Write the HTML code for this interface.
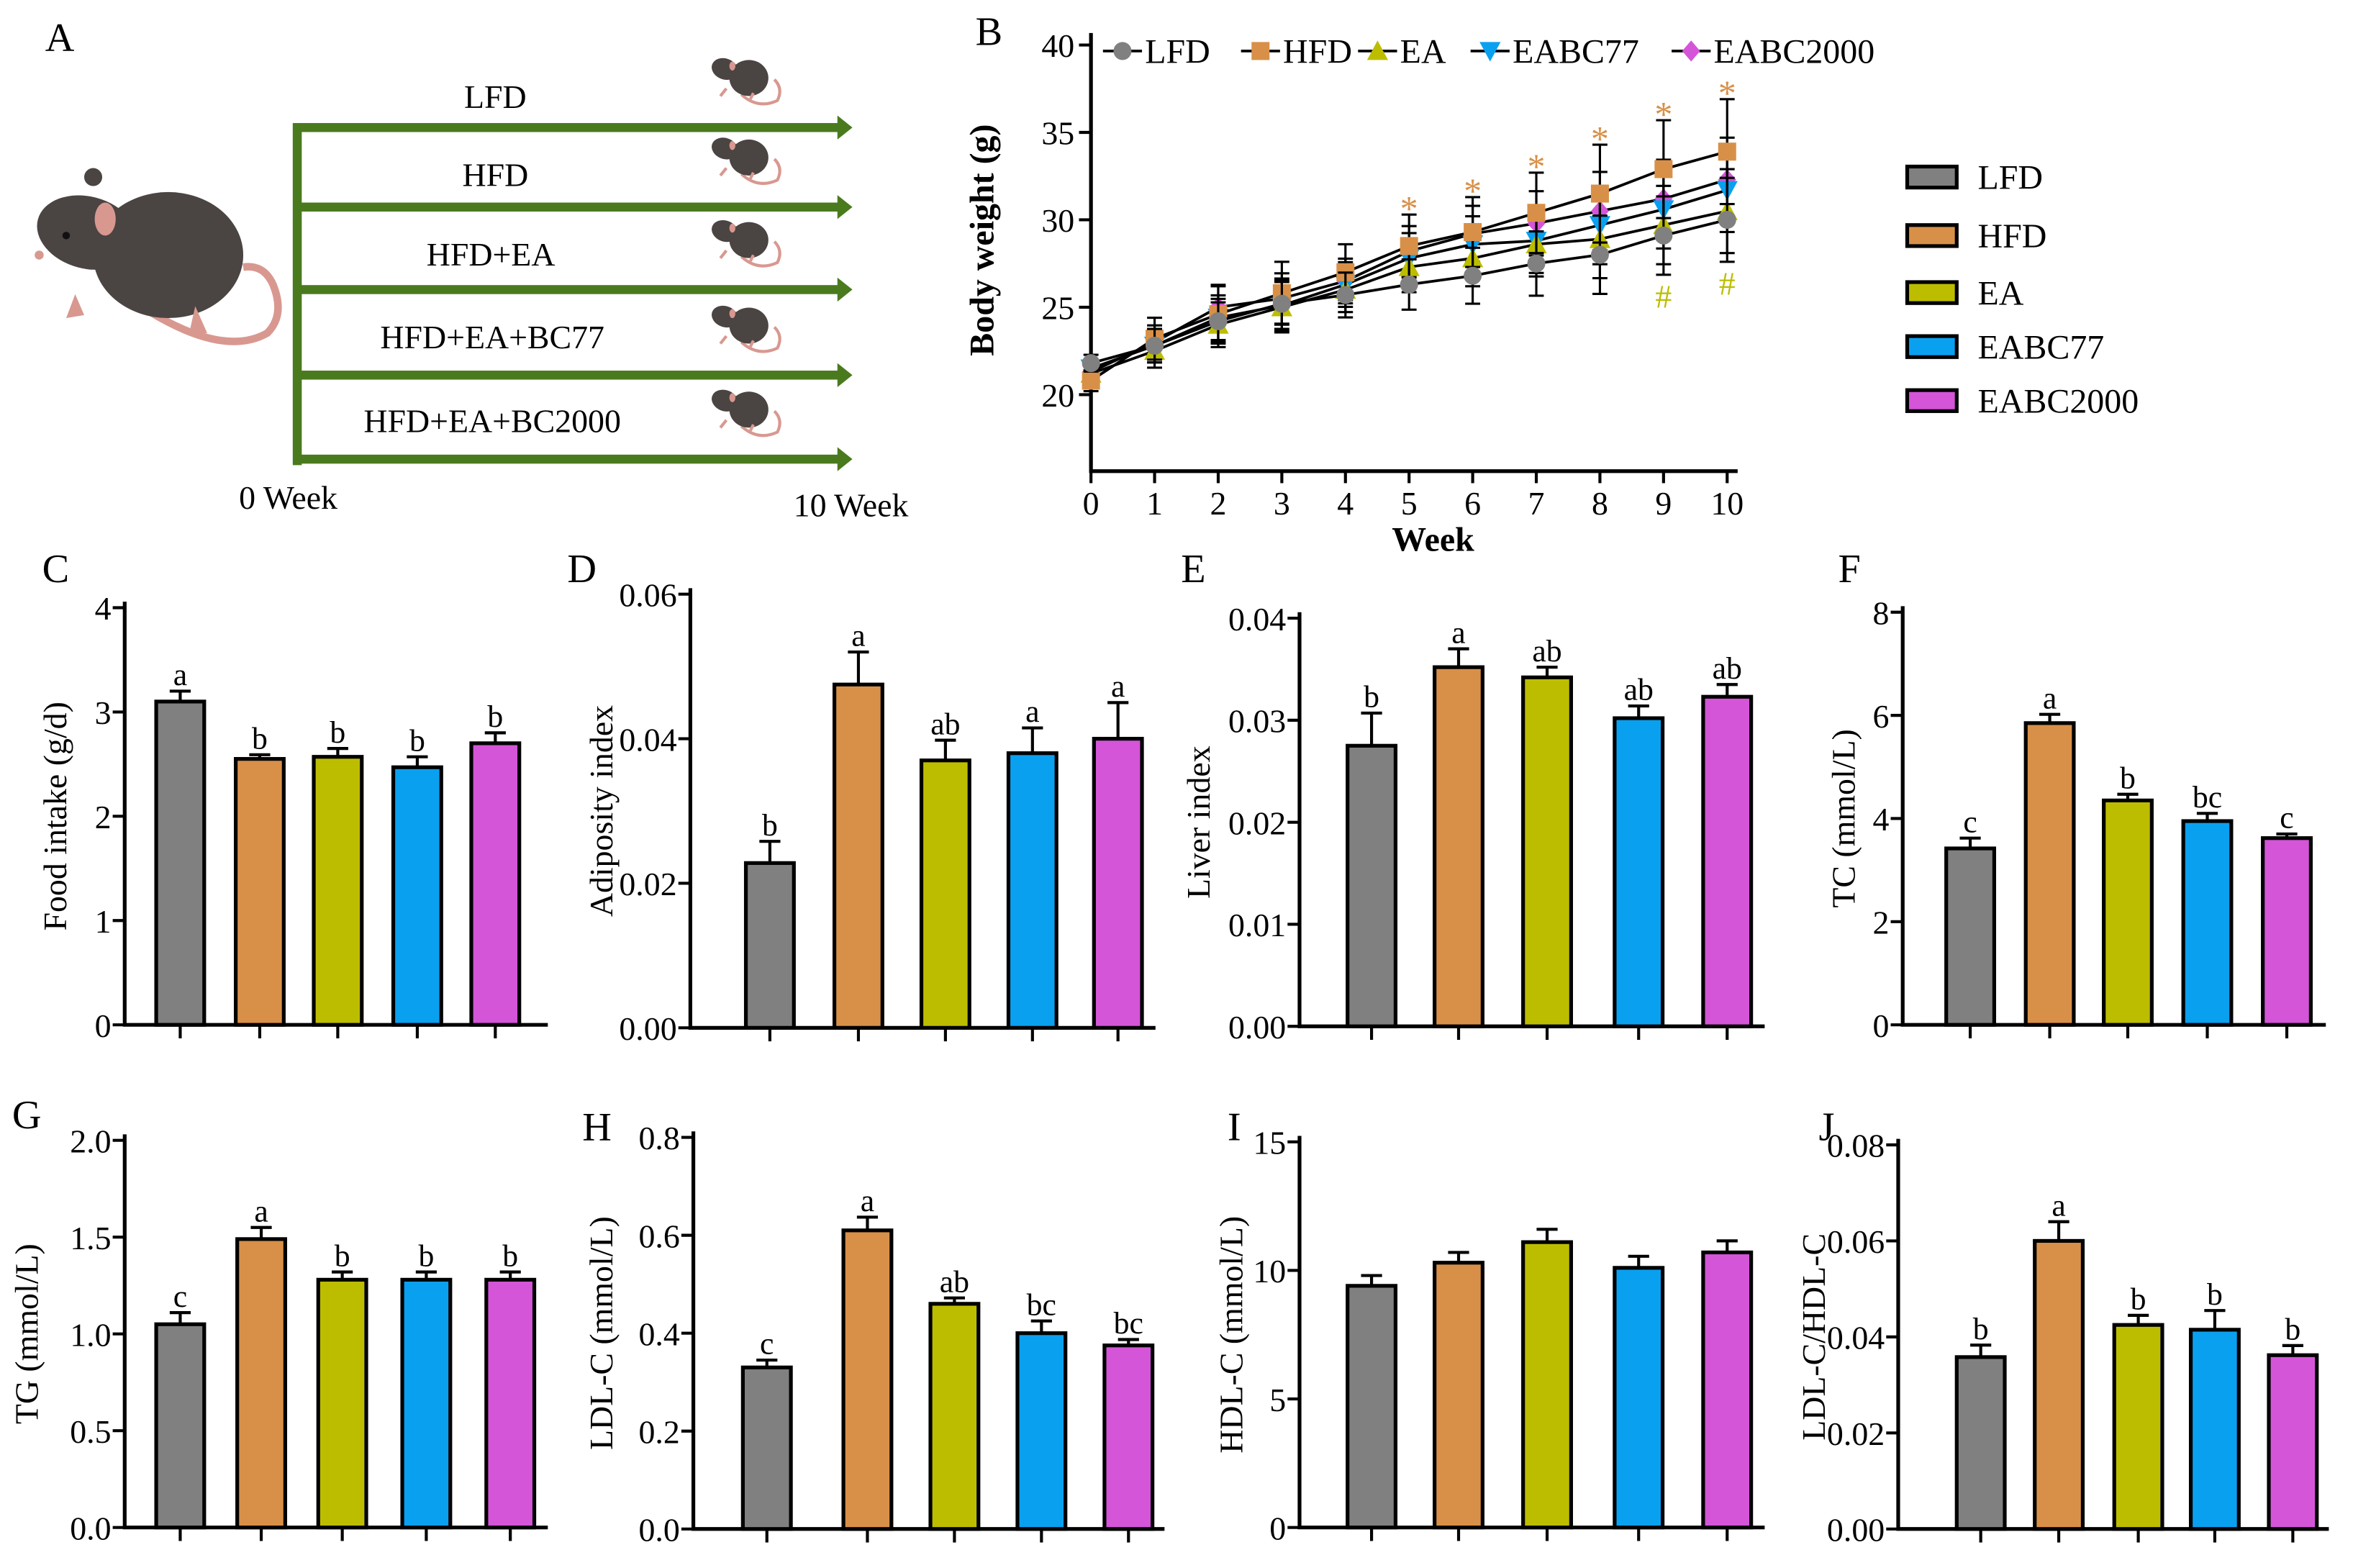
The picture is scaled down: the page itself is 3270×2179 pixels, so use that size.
<!DOCTYPE html>
<html><head><meta charset="utf-8">
<style>
html,body{margin:0;padding:0;background:#fff;}
svg{display:block;}
text{font-family:"Liberation Serif",serif;fill:#000;}
</style></head>
<body>
<svg id="fig" xmlns="http://www.w3.org/2000/svg" width="3270" height="2179" viewBox="0 0 1568 1045">
<g id="panelA">
  <text x="30" y="34" font-size="27">A</text>
  <g>
    <path d="M100 208 Q150 238 178 222 Q190 210 182 190 Q176 176 162 178" stroke="#d89890" stroke-width="5" fill="none"/>
    <ellipse cx="112" cy="170" rx="50" ry="42" fill="#4a4442"/>
    <ellipse cx="58" cy="155" rx="34" ry="24" fill="#4a4442" transform="rotate(15 58 155)"/>
    <ellipse cx="70" cy="146" rx="7" ry="11" fill="#d89890"/>
    <circle cx="62" cy="118" r="6" fill="#4a4442"/>
    <circle cx="44" cy="157" r="2.5" fill="#111"/>
    <circle cx="26" cy="170" r="3" fill="#d89890"/>
    <path d="M50 196 L56 210 L44 212 Z" fill="#d89890"/>
    <path d="M130 204 L138 222 L126 222 Z" fill="#d89890"/>
  </g>
  <g id="arrows"></g>
  <text x="330" y="72" font-size="22" text-anchor="middle">LFD</text>
  <text x="330" y="124" font-size="22" text-anchor="middle">HFD</text>
  <text x="327" y="177" font-size="22" text-anchor="middle">HFD+EA</text>
  <text x="328" y="232" font-size="22" text-anchor="middle">HFD+EA+BC77</text>
  <text x="328" y="288" font-size="22" text-anchor="middle">HFD+EA+BC2000</text>
  <text x="192" y="339" font-size="22" text-anchor="middle">0 Week</text>
  <text x="567" y="344" font-size="22" text-anchor="middle">10 Week</text>
</g>
<g id="panelB"></g>
<g id="bars"></g>
</svg>
<script>
var NS="http://www.w3.org/2000/svg";
var groups=["LFD","HFD","EA","EABC77","EABC2000"];
var colors=["#808080","#d89048","#bdbd00","#0aa0f0","#d455d8"];
var weeks=[0,1,2,3,4,5,6,7,8,9,10];
var wLFD=[21.8,22.8,24.2,25.2,25.7,26.3,26.8,27.5,28.0,29.1,30.0];
var wHFD=[20.8,23.2,24.6,25.8,27.0,28.5,29.3,30.4,31.5,32.9,33.9];
var wEA=[21.2,22.5,24.0,25.0,26.0,27.3,27.8,28.6,28.9,29.7,30.5];
var wEABC77=[21.5,22.8,24.4,25.1,26.3,27.8,28.6,28.8,29.7,30.6,31.7];
var wEABC2000=[21.3,23.0,25.0,25.5,26.5,28.2,29.2,29.8,30.5,31.2,32.3];
var wErr=[0.6,1.2,1.6,1.8,1.6,1.8,2.0,2.3,2.8,2.8,3.0];
var wTicks=[20,25,30,35,40];
var starWeeks=[5,6,7,8,9,10];
var hashWeeks=[9,10];

var cVals=[3.1,2.55,2.57,2.47,2.7], cErr=[0.1,0.04,0.08,0.1,0.1], cLet=["a","b","b","b","b"], cTicks=[0,1,2,3,4];
var dVals=[0.0228,0.0475,0.037,0.038,0.040], dErr=[0.003,0.0045,0.0028,0.0035,0.005], dLet=["b","a","ab","a","a"], dTicks=[0,0.02,0.04,0.06];
var eVals=[0.0275,0.0352,0.0342,0.0302,0.0323], eErr=[0.0032,0.0018,0.001,0.0012,0.0012], eLet=["b","a","ab","ab","ab"], eTicks=[0,0.01,0.02,0.03,0.04];
var fVals=[3.42,5.85,4.35,3.95,3.62], fErr=[0.2,0.17,0.12,0.15,0.08], fLet=["c","a","b","bc","c"], fTicks=[0,2,4,6,8];
var gVals=[1.05,1.49,1.28,1.28,1.28], gErr=[0.06,0.06,0.04,0.04,0.04], gLet=["c","a","b","b","b"], gTicks=[0,0.5,1.0,1.5,2.0];
var hVals=[0.33,0.61,0.46,0.40,0.375], hErr=[0.015,0.027,0.012,0.025,0.012], hLet=["c","a","ab","bc","bc"], hTicks=[0,0.2,0.4,0.6,0.8];
var iVals=[9.4,10.3,11.1,10.1,10.7], iErr=[0.4,0.4,0.5,0.45,0.45], iLet=["","","","",""], iTicks=[0,5,10,15];
var jVals=[0.0358,0.060,0.0425,0.0415,0.0362], jErr=[0.0025,0.004,0.002,0.004,0.002], jLet=["b","a","b","b","b"], jTicks=[0,0.02,0.04,0.06,0.08];

function mk(tag,attrs,parent){var e=document.createElementNS(NS,tag);for(var k in attrs)e.setAttribute(k,attrs[k]);parent.appendChild(e);return e;}
function tx(str,attrs,parent){var e=mk("text",attrs,parent);e.textContent=str;return e;}

var arr=document.getElementById("arrows");
var vline=mk("rect",{x:195,y:82,width:6,height:228,fill:"#4a7a1e"},arr);


[85,138,193,250,306].forEach(function(y,i){
  var g=mk("g",{},arr);
  
  
  mk("rect",{x:197,y:y-3,width:362,height:6,fill:"#4a7a1e"},g);
  mk("polygon",{points:(558)+","+(y-8)+" 568,"+y+" 558,"+(y+8),fill:"#4a7a1e"},g);
  var my=y-30;
  var m=mk("g",{},arr);
  
  
  mk("path",{d:"M494 "+(my+8)+" Q505 "+(my+18)+" 518 "+(my+12)+" Q522 "+(my+4)+" 516 "+(my-2),stroke:"#d89890","stroke-width":2,fill:"none"},m);
  mk("ellipse",{cx:499,cy:my-3,rx:13,ry:12,fill:"#4a4442"},m);
  mk("ellipse",{cx:483,cy:my-9,rx:9,ry:7,fill:"#4a4442",transform:"rotate(20 483 "+(my-9)+")"},m);
  mk("ellipse",{cx:488,cy:my-11,rx:2,ry:3,fill:"#d89890"},m);
  mk("line",{x1:484,y1:my+4,x2:480,y2:my+9,stroke:"#d89890","stroke-width":2},m);
  mk("line",{x1:502,y1:my+7,x2:500,y2:my+11,stroke:"#d89890","stroke-width":2},m);
});

var pb=document.getElementById("panelB");
var bx0=727,bx1=1151,by20=263,by40=30;
function bxs(w){return bx0+(bx1-bx0)*w/10;}
function bys(v){return by20+(by40-by20)*(v-20)/20;}
tx("B",{x:650,y:30,"font-size":27,},pb);
var axB=mk("path",{d:"M"+bx0+" 22 V314 H1158",stroke:"#000","stroke-width":2.5,fill:"none"},pb);


wTicks.forEach(function(t){
  var y=bys(t);
  mk("line",{x1:bx0-8,y1:y,x2:bx0,y2:y,stroke:"#000","stroke-width":2},pb);
  var l=tx(String(t),{x:bx0-11,y:y+8,"font-size":22,"text-anchor":"end"},pb);
  
  
});
weeks.forEach(function(w){
  var x=bxs(w);
  mk("line",{x1:x,y1:314,x2:x,y2:322,stroke:"#000","stroke-width":2},pb);
  var l=tx(String(w),{x:x,y:343,"font-size":22,"text-anchor":"middle"},pb);
  
  
});
var bxt=tx("Week",{x:955,y:367,"font-size":23,"font-weight":"bold","text-anchor":"middle"},pb);


var byt=tx("Body weight (g)",{x:0,y:0,"font-size":23,"font-weight":"bold","text-anchor":"middle",transform:"translate(662,160) rotate(-90)"},pb);


var series=[wLFD,wHFD,wEA,wEABC77,wEABC2000];
function marker(i,x,y,parent){
  var c=colors[i];
  if(i==0)return mk("circle",{cx:x,cy:y,r:6,fill:c},parent);
  if(i==1)return mk("rect",{x:x-6,y:y-6,width:12,height:12,fill:c},parent);
  if(i==2)return mk("polygon",{points:x+","+(y-7)+" "+(x+7)+","+(y+6)+" "+(x-7)+","+(y+6),fill:c},parent);
  if(i==3)return mk("polygon",{points:x+","+(y+7)+" "+(x+7)+","+(y-6)+" "+(x-7)+","+(y-6),fill:c},parent);
  return mk("polygon",{points:x+","+(y-7)+" "+(x+6)+","+y+" "+x+","+(y+7)+" "+(x-6)+","+y,fill:c},parent);
}
[4,3,2,1,0].forEach(function(i){
  var s=series[i];
  var g=mk("g",{},pb);
  
  
  var d=s.map(function(v,k){return (k?"L":"M")+bxs(weeks[k])+" "+bys(v);}).join(" ");
  mk("path",{d:d,stroke:"#000","stroke-width":1.8,fill:"none"},g);
  s.forEach(function(v,k){
    var x=bxs(weeks[k]),e=wErr[k]*(i==1?1:0.8);
    mk("path",{d:"M"+x+" "+bys(v-e)+" V"+bys(v+e)+" M"+(x-5)+" "+bys(v+e)+" H"+(x+5)+" M"+(x-5)+" "+bys(v-e)+" H"+(x+5),stroke:"#000","stroke-width":1.5,fill:"none"},g);
  });
  s.forEach(function(v,k){
    var m=marker(i,bxs(weeks[k]),bys(v),g);
    
    
  });
});
starWeeks.forEach(function(w){
  var y=bys(wHFD[w]+wErr[w])-6;
  var s=tx("*",{x:bxs(w),y:y+10,"font-size":24,"text-anchor":"middle",style:"fill:#d89048"},pb);
  
  
});
hashWeeks.forEach(function(w){
  var y=bys(wLFD[w]-wErr[w]*0.8)+22;
  var s=tx("#",{x:bxs(w),y:y,"font-size":22,"text-anchor":"middle",style:"fill:#bdbd00"},pb);
  
  
});
var lx=[735,827,905,980,1114];
groups.forEach(function(gname,i){
  var g=mk("g",{},pb);
  
  
  mk("line",{x1:lx[i],y1:34,x2:lx[i]+26,y2:34,stroke:"#000","stroke-width":1.8},g);
  marker(i,lx[i]+13,34,g);
  tx(gname,{x:lx[i]+28,y:42,"font-size":23},g);
});
[118,157,195,231,267].forEach(function(y,i){
  var g=mk("g",{},pb);
  
  
  mk("rect",{x:1271,y:y-7,width:33,height:14,fill:colors[i],stroke:"#000","stroke-width":2.5},g);
  tx(groups[i],{x:1318,y:y+8,"font-size":23},g);
});

var barsG=document.getElementById("bars");
function barPanel(o){
  var g=mk("g",{},barsG);
  
  
  var max=o.ticks[o.ticks.length-1];
  function ys(v){return o.y0+(o.yTop-o.y0)*v/max;}
  tx(o.id.toUpperCase(),{x:o.lx,y:o.ly,"font-size":27},g);
  mk("path",{d:"M"+o.ax+" "+(o.yTop-4)+" V"+o.y0+" H"+o.ax2,stroke:"#000","stroke-width":2.5,fill:"none"},g);
  o.ticks.forEach(function(t){
    var y=ys(t);
    mk("line",{x1:o.ax-8,y1:y,x2:o.ax,y2:y,stroke:"#000","stroke-width":2},g);
    var l=tx(o.fmt(t),{x:o.ax-9,y:y+8,"font-size":22,"text-anchor":"end"},g);
    
    
  });
  var yt=tx(o.title,{x:0,y:0,"font-size":22,"text-anchor":"middle",transform:"translate("+o.tx+","+((o.y0+o.yTop)/2)+") rotate(-90)"},g);
  
  
  o.vals.forEach(function(v,i){
    var x=o.cx[i],top=ys(v),et=ys(v+o.err[i]);
    mk("line",{x1:x,y1:o.y0,x2:x,y2:o.y0+9,stroke:"#000","stroke-width":2},g);
    mk("path",{d:"M"+x+" "+top+" V"+et+" M"+(x-7)+" "+et+" H"+(x+7),stroke:"#000","stroke-width":2,fill:"none"},g);
    var b=mk("rect",{x:x-16,y:top,width:32,height:o.y0-top,fill:colors[i],stroke:"#000","stroke-width":2.5},g);
    
    
    if(o.lets[i]){
      var l=tx(o.lets[i],{x:x,y:et-4,"font-size":21,"text-anchor":"middle"},g);
      
      
    }
  });
}
function f1(t){return String(t);}
function f2(t){return t.toFixed(2);}
function f1d(t){return t.toFixed(1);}
barPanel({id:"c",lx:28,ly:388,ax:83,ax2:365,y0:683,yTop:405,ticks:cTicks,vals:cVals,err:cErr,lets:cLet,cx:[120,173,225,278,330],title:"Food intake (g/d)",tx:44,fmt:f1});
barPanel({id:"d",lx:378,ly:388,ax:460,ax2:770,y0:685,yTop:396,ticks:dTicks,vals:dVals,err:dErr,lets:dLet,cx:[513,572,630,688,745],title:"Adiposity index",tx:408,fmt:f2});
barPanel({id:"e",lx:787,ly:388,ax:866,ax2:1176,y0:684,yTop:412,ticks:eTicks,vals:eVals,err:eErr,lets:eLet,cx:[914,972,1031,1092,1151],title:"Liver index",tx:806,fmt:f2});
barPanel({id:"f",lx:1225,ly:388,ax:1268,ax2:1550,y0:683,yTop:408,ticks:fTicks,vals:fVals,err:fErr,lets:fLet,cx:[1313,1366,1418,1471,1524],title:"TC (mmol/L)",tx:1236,fmt:f1});
barPanel({id:"g",lx:8,ly:752,ax:83,ax2:365,y0:1018,yTop:760,ticks:gTicks,vals:gVals,err:gErr,lets:gLet,cx:[120,174,228,284,340],title:"TG (mmol/L)",tx:25,fmt:f1d});
barPanel({id:"h",lx:388,ly:760,ax:462,ax2:776,y0:1019,yTop:758,ticks:hTicks,vals:hVals,err:hErr,lets:hLet,cx:[511,578,636,694,752],title:"LDL-C (mmol/L)",tx:408,fmt:f1d});
barPanel({id:"i",lx:818,ly:760,ax:866,ax2:1176,y0:1018,yTop:761,ticks:iTicks,vals:iVals,err:iErr,lets:iLet,cx:[914,972,1031,1092,1151],title:"HDL-C (mmol/L)",tx:828,fmt:f1});
barPanel({id:"j",lx:1212,ly:760,ax:1265,ax2:1552,y0:1019,yTop:763,ticks:jTicks,vals:jVals,err:jErr,lets:jLet,cx:[1320,1372,1425,1476,1528],title:"LDL-C/HDL-C",tx:1216,fmt:f2});
</script>
</body></html>
